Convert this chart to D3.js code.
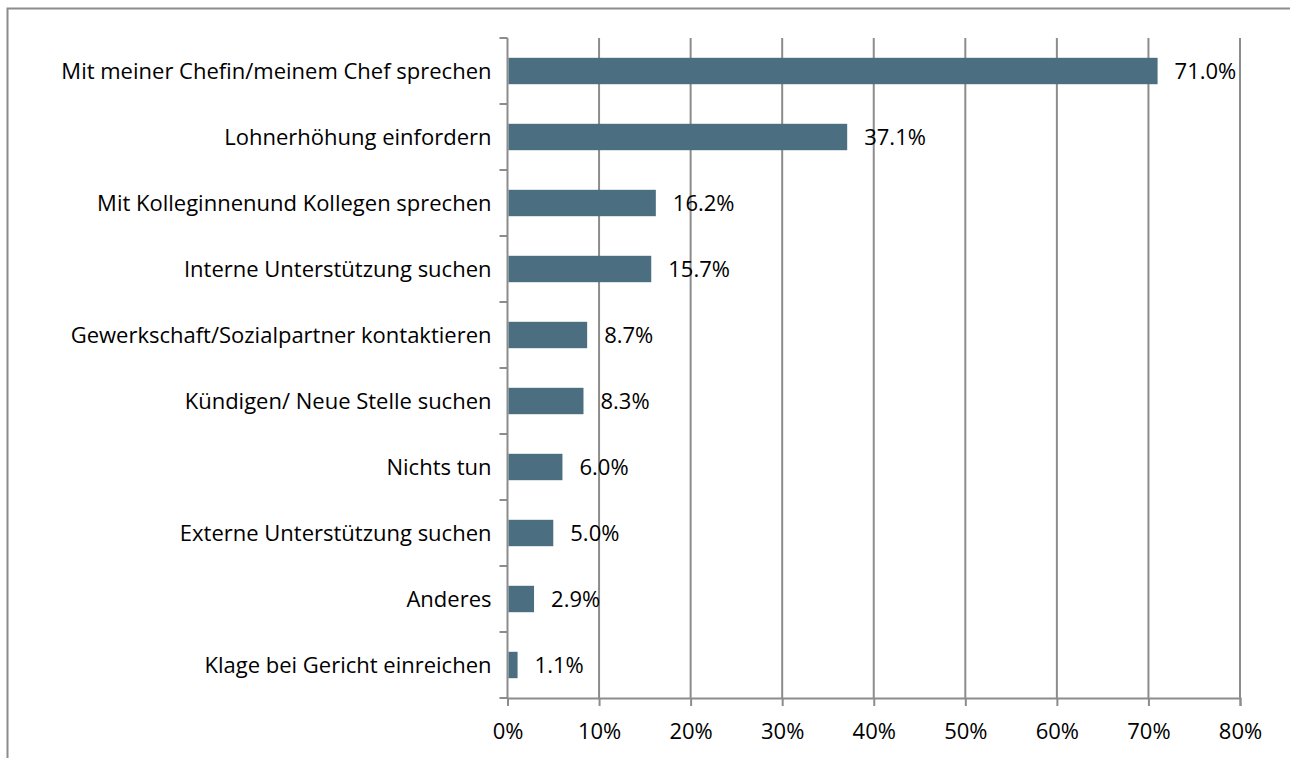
<!DOCTYPE html>
<html lang="de">
<head>
  <meta charset="UTF-8">
  <title>Massnahmen</title>
  <script src="https://cdn.jsdelivr.net/npm/d3@7"></script>
  <style>
    body { margin: 0; background: #fff; }
    svg { display: block; font-family: "Open Sans", Lato, sans-serif; }
  </style>
</head>
<body>
  <div id="chart"></div>
  <script>
    const categories = [
      'Mit meiner Chefin/meinem Chef sprechen',
      'Lohnerhöhung einfordern',
      'Mit Kolleginnenund Kollegen sprechen',
      'Interne Unterstützung suchen',
      'Gewerkschaft/Sozialpartner kontaktieren',
      'Kündigen/ Neue Stelle suchen',
      'Nichts tun',
      'Externe Unterstützung suchen',
      'Anderes',
      'Klage bei Gericht einreichen'
    ]
    const values = [71.0, 37.1, 16.2, 15.7, 8.7, 8.3, 6.0, 5.0, 2.9, 1.1]
    const xTicks = [0, 10, 20, 30, 40, 50, 60, 70, 80]

    const width = 1290
    const height = 758
    const plotLeft = 507.5
    const plotRight = 1240
    const plotTop = 38
    const plotBottom = 698
    const grey = '#8c8c8c'
    const fontSize = '22px'

    const svg = d3.select('#chart')
      .append('svg')
      .attr('width', width)
      .attr('height', height)

    // outer frame (only top and left edges are inside the picture)
    svg.append('rect')
      .attr('x', 7.5)
      .attr('y', 8.5)
      .attr('width', 1400)
      .attr('height', 900)
      .attr('fill', 'none')
      .attr('stroke', grey)
      .attr('stroke-width', 2)

    const x = d3.scaleLinear()
      .domain([0, 80])
      .range([plotLeft, plotRight])

    const y = d3.scaleBand()
      .domain(categories)
      .range([plotTop, plotBottom])
      .paddingInner(0.6)
      .paddingOuter(0.3)

    // vertical gridlines
    svg.append('g')
      .selectAll('line')
      .data(xTicks.slice(1))
      .enter()
      .append('line')
      .attr('x1', d => x(d))
      .attr('x2', d => x(d))
      .attr('y1', plotTop)
      .attr('y2', plotBottom)
      .attr('stroke', grey)
      .attr('stroke-width', 2)

    const xAxis = d3.axisBottom(x)
      .tickValues(xTicks)
      .tickSize(8)
      .tickPadding(17)
      .tickFormat(d => d + '%')

    const gx = svg.append('g')
      .attr('transform', `translate(0, ${plotBottom})`)
      .call(xAxis)
    gx.select('.domain').attr('stroke', grey).attr('stroke-width', 2)
    gx.selectAll('.tick line').attr('stroke', grey).attr('stroke-width', 2)
    gx.selectAll('.tick text')
      .attr('fill', '#000')
      .style('font-size', fontSize)
      .style('font-family', '"Open Sans", Lato, sans-serif')

    // y axis: line with ticks at band boundaries
    const step = (plotBottom - plotTop) / categories.length
    const boundaries = d3.range(categories.length + 1).map(i => plotTop + i * step)

    svg.append('line')
      .attr('x1', plotLeft)
      .attr('x2', plotLeft)
      .attr('y1', plotTop)
      .attr('y2', plotBottom)
      .attr('stroke', grey)
      .attr('stroke-width', 2)

    svg.append('g')
      .selectAll('line')
      .data(boundaries)
      .enter()
      .append('line')
      .attr('x1', plotLeft - 8)
      .attr('x2', plotLeft)
      .attr('y1', d => d)
      .attr('y2', d => d)
      .attr('stroke', grey)
      .attr('stroke-width', 2)

    svg.append('g')
      .selectAll('text')
      .data(categories)
      .enter()
      .append('text')
      .attr('x', plotLeft - 16)
      .attr('y', d => y(d) + y.bandwidth() / 2)
      .attr('dy', '0.35em')
      .attr('text-anchor', 'end')
      .style('font-size', fontSize)
      .text(d => d)

    svg.append('g')
      .selectAll('rect')
      .data(values)
      .enter()
      .append('rect')
      .attr('x', plotLeft + 1)
      .attr('y', (d, i) => y(categories[i]))
      .attr('width', d => x(d) - plotLeft - 1)
      .attr('height', y.bandwidth())
      .attr('fill', '#4b6f81')

    svg.append('g')
      .selectAll('text')
      .data(values)
      .enter()
      .append('text')
      .attr('x', d => x(d) + 17)
      .attr('y', (d, i) => y(categories[i]) + y.bandwidth() / 2)
      .attr('dy', '0.35em')
      .style('font-size', fontSize)
      .text(d => d.toFixed(1) + '%')
  </script>
</body>
</html>
